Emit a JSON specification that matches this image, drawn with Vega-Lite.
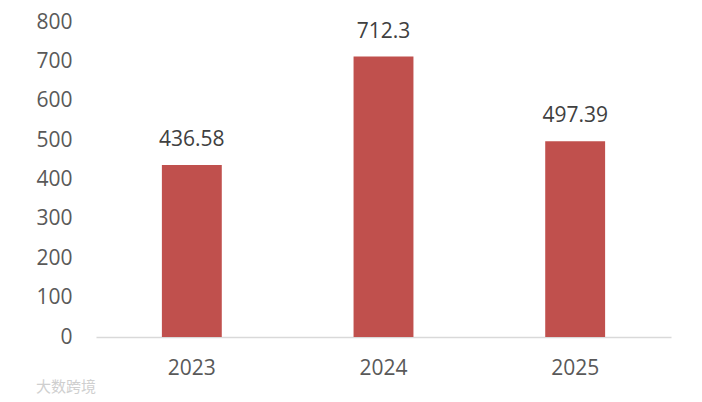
{
  "$schema": "https://vega.github.io/schema/vega-lite/v6.json",
  "width": 575,
  "height": 315,
  "autosize": {"type": "none"},
  "padding": {"left": 96, "top": 22, "right": 31, "bottom": 65},
  "background": "white",
  "config": {
    "view": {"stroke": null},
    "font": "Open Sans",
    "text": {"font": "Open Sans"}
  },
  "title": {
    "text": "大数跨境",
    "orient": "bottom",
    "anchor": "start",
    "frame": "group",
    "dx": -60,
    "offset": 2,
    "fontSize": 15,
    "fontWeight": "normal",
    "font": "Noto Sans CJK SC",
    "color": "#CFCFCF"
  },
  "data": {
    "values": [
      {"year": "2023", "value": 436.58, "label": "436.58"},
      {"year": "2024", "value": 712.3, "label": "712.3"},
      {"year": "2025", "value": 497.39, "label": "497.39"}
    ]
  },
  "encoding": {
    "x": {
      "field": "year",
      "type": "nominal",
      "sort": null,
      "scale": {"paddingInner": 0.6875, "paddingOuter": 0.34375},
      "axis": {
        "title": null,
        "labelAngle": 0,
        "labelFontSize": 21,
        "labelColor": "#595959",
        "labelPadding": 20,
        "ticks": false,
        "tickSize": 0,
        "domainColor": "#D9D9D9",
        "domainWidth": 1.5
      }
    },
    "y": {
      "field": "value",
      "type": "quantitative",
      "scale": {"domain": [0, 800], "nice": false},
      "axis": {
        "title": null,
        "values": [0, 100, 200, 300, 400, 500, 600, 700, 800],
        "domain": false,
        "grid": false,
        "ticks": false,
        "tickSize": 0,
        "labelFontSize": 21,
        "labelColor": "#595959",
        "labelPadding": 24
      }
    }
  },
  "layer": [
    {
      "mark": {"type": "bar", "color": "#C0504D"}
    },
    {
      "mark": {
        "type": "text",
        "baseline": "alphabetic",
        "dy": -19,
        "fontSize": 21,
        "color": "#404040"
      },
      "encoding": {
        "text": {"field": "label", "type": "nominal"}
      }
    }
  ]
}
